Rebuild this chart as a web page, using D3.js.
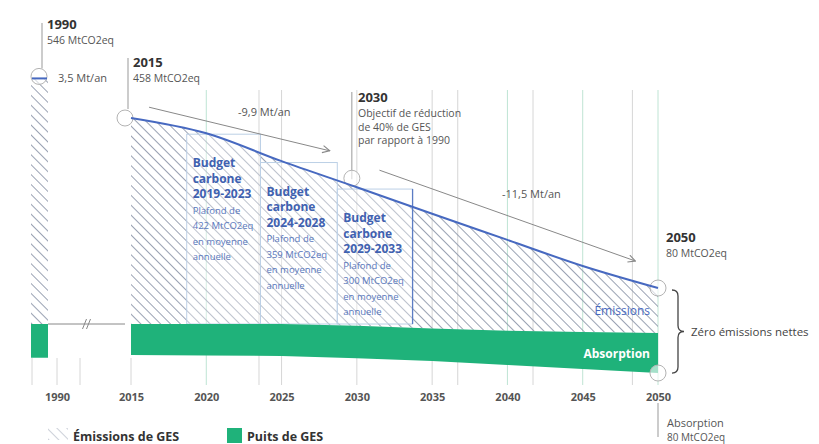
<!DOCTYPE html>
<html>
<head>
<meta charset="utf-8">
<script src="https://cdn.jsdelivr.net/npm/d3@7"></script>
<style>
  body { margin: 0; background: #fff; }
  svg { display: block; font-family: "Open Sans", sans-serif; }
</style>
</head>
<body>
<div id="chart"></div>
<script>
// values (MtCO2eq)
const years = [2015, 2020, 2025, 2030, 2035, 2040, 2045, 2050];
const emissions = [458, 424, 362, 304, 245, 187, 129, 80];
const sinkTop = [0, 0, 0, -4, -10, -15, -18, -20];
const sinkBottom = [-69, -70, -71, -76, -82, -91, -100, -109];
const emissions1990 = 546;
const sink1990 = -75;

const tickYears = [1990, 2015, 2020, 2025, 2030, 2035, 2040, 2045, 2050];
const gridYears = [2020, 2023.5, 2025, 2030, 2035, 2036.7, 2040, 2041.7, 2045, 2048.3, 2050];
const greenGridYears = [2020, 2040, 2045, 2050];

const budgetPeriods = ["2019-2023", "2024-2028", "2029-2033"];
const budgetStart = [2018.7, 2023.6, 2028.7];
const budgetEnd = [2023.6, 2028.7, 2033.7];
const budgetCaps = [422, 359, 300];

const rateLabels = ["-9,9 Mt/an", "-11,5 Mt/an"];
const rateFrom = [[2016.2, 482], [2031.5, 342]];
const rateTo = [[2028.2, 385], [2048.5, 140]];

const width = 819, height = 444;
const green = "#1fb27a", blue = "#4769c0", hatchCol = "#8f97aa";

let svg = d3.select("#chart")
  .append("svg")
  .attr("width", width)
  .attr("height", height)

let x = d3.scaleLinear()
  .domain([1990, 2015, 2050])
  .range([57, 131, 658])

let y = d3.scaleLinear()
  .domain([0, 458])
  .range([324, 118])

let defs = svg.append("defs")
defs.append("pattern")
  .attr("id", "hatch")
  .attr("patternUnits", "userSpaceOnUse")
  .attr("width", 7).attr("height", 7)
  .attr("patternTransform", "rotate(-45)")
  .append("line")
  .attr("x1", 3.5).attr("y1", 0).attr("x2", 3.5).attr("y2", 7)
  .attr("stroke", hatchCol).attr("stroke-width", 0.9)

defs.append("marker")
  .attr("id", "arrow")
  .attr("viewBox", "0 0 10 10")
  .attr("refX", 9).attr("refY", 5)
  .attr("markerWidth", 9).attr("markerHeight", 9)
  .attr("markerUnits", "userSpaceOnUse")
  .attr("orient", "auto")
  .append("path")
  .attr("d", "M1,1 L9,5 L1,9")
  .attr("fill", "none").attr("stroke", "#888").attr("stroke-width", 1.2)

// grid lines
svg.append("g")
  .selectAll("line")
  .data(gridYears)
  .join("line")
  .attr("x1", d => x(d)).attr("x2", d => x(d))
  .attr("y1", 90).attr("y2", 385)
  .attr("stroke", d => greenGridYears.includes(d) ? "#bfe4d4" : "#d6d6d6")
  .attr("stroke-width", 1)

// small ticks under the band
let smallTicks = [x(1990) - 25, x(1990), x(1990) + 23, x(2015)]
svg.append("g")
  .selectAll("line")
  .data(smallTicks)
  .join("line")
  .attr("x1", d => d).attr("x2", d => d)
  .attr("y1", 358).attr("y2", 385)
  .attr("stroke", "#d6d6d6")

// 1990 column
let col0 = x(1990) - 26, col1 = x(1990) - 9
svg.append("rect")
  .attr("x", col0).attr("width", col1 - col0)
  .attr("y", y(emissions1990)).attr("height", y(0) - y(emissions1990))
  .attr("fill", "url(#hatch)")
svg.append("rect")
  .attr("x", col0).attr("width", col1 - col0)
  .attr("y", y(0)).attr("height", y(sink1990) - y(0))
  .attr("fill", green)

// broken axis
svg.append("line")
  .attr("x1", col1).attr("x2", x(2015) - 6)
  .attr("y1", y(0)).attr("y2", y(0))
  .attr("stroke", "#888")
let bx = (col1 + x(2015)) / 2 - 3
svg.append("g")
  .selectAll("line")
  .data([bx - 2, bx + 2])
  .join("line")
  .attr("x1", d => d - 2).attr("x2", d => d + 2)
  .attr("y1", y(0) + 5).attr("y2", y(0) - 5)
  .attr("stroke", "#888")

// emissions area
let idx = d3.range(years.length)
svg.append("path")
  .datum(idx)
  .attr("d", d3.area()
    .x(i => x(years[i]))
    .y0(i => y(sinkTop[i]))
    .y1(i => y(emissions[i]))
    .curve(d3.curveMonotoneX))
  .attr("fill", "url(#hatch)")

// budget boxes
let boxes = svg.append("g")
budgetPeriods.forEach((p, i) => {
  let bx0 = x(budgetStart[i]), bx1 = x(budgetEnd[i]), by0 = y(budgetCaps[i])
  boxes.append("rect")
    .attr("x", bx0).attr("y", by0)
    .attr("width", bx1 - bx0).attr("height", y(0) - by0)
    .attr("fill", "#fff").attr("fill-opacity", 0.35)
    .attr("stroke", "#bcd0e6").attr("stroke-width", 1)
  let t = boxes.append("text")
    .attr("x", bx0 + 6).attr("y", by0 + 33)
    .attr("fill", "#3f61b0")
  let lines = ["Budget", "carbone", p]
  lines.forEach((l, k) => {
    t.append("tspan").attr("x", bx0 + 6).attr("dy", k == 0 ? 0 : 15.5)
      .style("font-size", "12px").style("font-weight", 700).text(l)
  })
  let sub = ["Plafond de", budgetCaps[i] + " MtCO2eq", "en moyenne", "annuelle"]
  sub.forEach(l => {
    t.append("tspan").attr("x", bx0 + 6).attr("dy", 15.5)
      .style("font-size", "9.5px").attr("fill", "#5a78bd").text(l)
  })
})
svg.append("line")
  .attr("x1", x(budgetEnd[2])).attr("x2", x(budgetEnd[2]))
  .attr("y1", y(budgetCaps[2])).attr("y2", y(0))
  .attr("stroke", "#5b7cc4").attr("stroke-width", 1.3)

// sinks band
svg.append("path")
  .datum(idx)
  .attr("d", d3.area()
    .x(i => x(years[i]))
    .y0(i => y(sinkBottom[i]))
    .y1(i => y(sinkTop[i])))
  .attr("fill", green)

// stems
let stems = [
  [x(1990) - 15, 23, y(emissions1990) - 10],
  [x(2015) - 3, 58, y(458) - 9],
  [x(2030) - 5, 92, y(emissions[3]) - 8],
  [x(2050), 403, 437]
]
svg.append("g")
  .selectAll("line")
  .data(stems)
  .join("line")
  .attr("x1", d => d[0]).attr("x2", d => d[0])
  .attr("y1", d => d[1]).attr("y2", d => d[2])
  .attr("stroke", "#999")

// circles
let circles = [
  [x(1990) - 18, y(emissions1990) - 2],
  [x(2015) - 6, y(458)],
  [x(2030) - 5, y(emissions[3]) - 9],
  [x(2050), y(emissions[7])],
  [x(2050), y(sinkBottom[7])]
]
svg.append("g")
  .selectAll("circle")
  .data(circles)
  .join("circle")
  .attr("cx", d => d[0]).attr("cy", d => d[1])
  .attr("r", 8)
  .attr("fill", "#fff").attr("fill-opacity", 0.6)
  .attr("stroke", "#b3b3b3").attr("stroke-width", 1)

svg.append("line")
  .attr("x1", col0 + 1).attr("x2", col1 - 1)
  .attr("y1", y(emissions1990)).attr("y2", y(emissions1990))
  .attr("stroke", blue).attr("stroke-width", 2)

// emissions line
svg.append("path")
  .datum(idx)
  .attr("d", d3.line()
    .x(i => x(years[i]))
    .y(i => y(emissions[i]))
    .curve(d3.curveMonotoneX))
  .attr("fill", "none")
  .attr("stroke", blue)
  .attr("stroke-width", 2)

// rate arrows
rateLabels.forEach((r, i) => {
  svg.append("line")
    .attr("x1", x(rateFrom[i][0])).attr("y1", y(rateFrom[i][1]))
    .attr("x2", x(rateTo[i][0])).attr("y2", y(rateTo[i][1]))
    .attr("stroke", "#888").attr("stroke-width", 1)
    .attr("marker-end", "url(#arrow)")
})
svg.append("text").attr("x", 238).attr("y", 116).text(rateLabels[0])
  .style("font-size", "11px").attr("fill", "#555")
svg.append("text").attr("x", 502).attr("y", 198).text(rateLabels[1])
  .style("font-size", "11px").attr("fill", "#555")
svg.append("text").attr("x", 58).attr("y", 82).text("3,5 Mt/an")
  .style("font-size", "11px").attr("fill", "#555")

// annotations
function note(xp, yp, title, lines, gap) {
  let t = svg.append("text").attr("x", xp).attr("y", yp)
  t.append("tspan").attr("x", xp).text(title)
    .style("font-size", "13px").style("font-weight", 700).attr("fill", "#333")
  lines.forEach((l, k) => {
    t.append("tspan").attr("x", xp).attr("dy", k == 0 ? 15 : gap).text(l)
      .style("font-size", "10.5px").attr("fill", "#555")
  })
}
note(47, 29, "1990", [emissions1990 + " MtCO2eq"], 13.5)
note(133, 67, "2015", [emissions[0] + " MtCO2eq"], 13.5)
note(358, 102, "2030", ["Objectif de réduction", "de 40% de GES", "par rapport à 1990"], 13.5)
note(666, 242, "2050", [emissions[7] + " MtCO2eq"], 13.5)

svg.append("text").attr("x", 667).attr("y", 427).text("Absorption")
  .style("font-size", "11px").attr("fill", "#555")
svg.append("text").attr("x", 667).attr("y", 441).text("80 MtCO2eq")
  .style("font-size", "10px").attr("fill", "#555")

svg.append("text").attr("x", 650).attr("y", 315).attr("text-anchor", "end")
  .text("Émissions").style("font-size", "12px").attr("fill", blue)
svg.append("text").attr("x", 650).attr("y", 358).attr("text-anchor", "end")
  .text("Absorption").style("font-size", "12px").style("font-weight", 700).attr("fill", "#fff")

// curly bracket
let x0 = x(2050) + 14, ty = y(emissions[7]) + 2, by = y(sinkBottom[7]), my = (ty + by) / 2
svg.append("path")
  .attr("d", `M${x0},${ty} Q${x0 + 6},${ty} ${x0 + 6},${ty + 6} L${x0 + 6},${my - 6} Q${x0 + 6},${my} ${x0 + 12},${my} Q${x0 + 6},${my} ${x0 + 6},${my + 6} L${x0 + 6},${by - 6} Q${x0 + 6},${by} ${x0},${by}`)
  .attr("fill", "none").attr("stroke", "#444").attr("stroke-width", 1.3)
svg.append("text").attr("x", x0 + 19).attr("y", my + 4)
  .text("Zéro émissions nettes").style("font-size", "11.5px").attr("fill", "#444")

// x axis
let xAxis = svg.append("g")
  .attr("transform", "translate(0,388)")
  .call(d3.axisBottom(x).tickValues(tickYears).tickSize(0).tickPadding(5).tickFormat(d3.format("d")))
xAxis.select(".domain").remove()
xAxis.selectAll("text")
  .style("font-size", "11px").style("font-weight", 700)
  .style("font-family", "Open Sans, sans-serif")
  .attr("fill", "#555")

// legend
svg.append("rect").attr("x", 48).attr("y", 428).attr("width", 20).attr("height", 12)
  .attr("fill", "url(#hatch)").attr("opacity", 0.5)
svg.append("text").attr("x", 73).attr("y", 441).text("Émissions de GES")
  .style("font-size", "12.5px").style("font-weight", 700).attr("fill", "#333")
svg.append("rect").attr("x", 227).attr("y", 428).attr("width", 15).attr("height", 15)
  .attr("fill", green)
svg.append("text").attr("x", 247).attr("y", 441).text("Puits de GES")
  .style("font-size", "12.5px").style("font-weight", 700).attr("fill", "#333")
</script>
</body>
</html>
